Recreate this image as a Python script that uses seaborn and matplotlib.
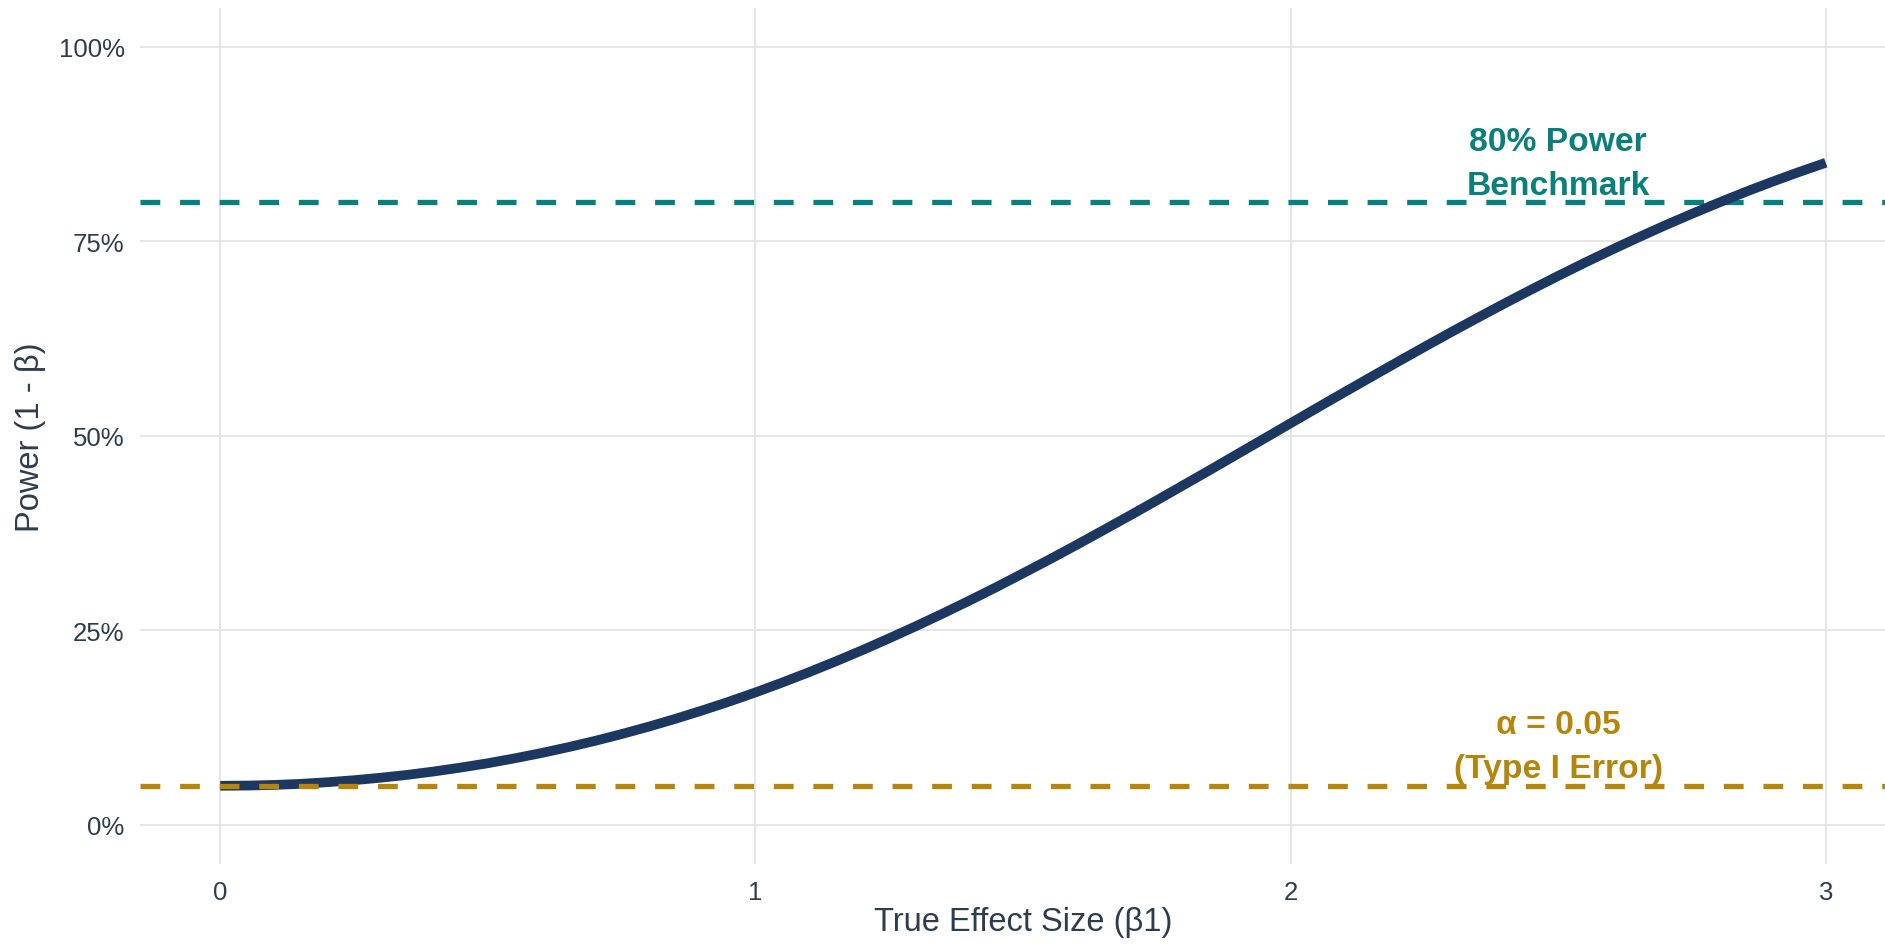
import matplotlib
matplotlib.use("Agg")
import matplotlib.pyplot as plt
import seaborn as sns
import pandas as pd
from matplotlib.ticker import PercentFormatter

# Data
effect_size = [0.00, 0.05, 0.10, 0.15, 0.20, 0.25, 0.30, 0.35, 0.40, 0.45,
               0.50, 0.55, 0.60, 0.65, 0.70, 0.75, 0.80, 0.85, 0.90, 0.95,
               1.00, 1.05, 1.10, 1.15, 1.20, 1.25, 1.30, 1.35, 1.40, 1.45,
               1.50, 1.55, 1.60, 1.65, 1.70, 1.75, 1.80, 1.85, 1.90, 1.95,
               2.00, 2.05, 2.10, 2.15, 2.20, 2.25, 2.30, 2.35, 2.40, 2.45,
               2.50, 2.55, 2.60, 2.65, 2.70, 2.75, 2.80, 2.85, 2.90, 2.95, 3.00]
power = [0.0500, 0.0503, 0.0511, 0.0525, 0.0546, 0.0572, 0.0604, 0.0641, 0.0685, 0.0735,
         0.0790, 0.0853, 0.0921, 0.0996, 0.1077, 0.1165, 0.1259, 0.1360, 0.1467, 0.1580,
         0.1700, 0.1827, 0.1960, 0.2099, 0.2244, 0.2396, 0.2552, 0.2714, 0.2881, 0.3053,
         0.3231, 0.3411, 0.3596, 0.3785, 0.3975, 0.4169, 0.4365, 0.4562, 0.4761, 0.4960,
         0.5160, 0.5359, 0.5557, 0.5753, 0.5948, 0.6141, 0.6331, 0.6517, 0.6700, 0.6879,
         0.7054, 0.7224, 0.7389, 0.7549, 0.7704, 0.7852, 0.7995, 0.8133, 0.8264, 0.8389, 0.8508]
benchmark_power = 0.80
alpha_level = 0.05
x_ticks = [0, 1, 2, 3]
y_ticks = [0.0, 0.25, 0.50, 0.75, 1.00]

df = pd.DataFrame({"effect": effect_size, "power": power})

sns.set_theme(style="white")
plt.rcParams['font.family'] = ['Liberation Sans', 'DejaVu Sans']

NAVY = "#1c3860"
TEAL = "#0a7f7b"
GOLD = "#b5860d"
TEXT = "#2e3d4d"
GRID = "#e4e4e4"

W, H = 1885, 945
fig = plt.figure(figsize=(W / 100, H / 100), dpi=100)
left, right = 140, 1906
top, bottom = 8.8, 864.6
ax = fig.add_axes([left / W, 1 - bottom / H, (right - left) / W, (bottom - top) / H])

ax.set_xlim(-0.15, 3.15)
ax.set_ylim(-0.05, 1.05)

ax.axhline(benchmark_power, color=TEAL, lw=3.8, dashes=(3.75, 3.75), zorder=2)
ax.axhline(alpha_level, color=GOLD, lw=3.8, dashes=(3.75, 3.75), zorder=4)

sns.lineplot(data=df, x="effect", y="power", ax=ax, color=NAVY, lw=7,
             solid_joinstyle="round", solid_capstyle="butt", zorder=3)

ax.text(2.5, 0.85, "80% Power\nBenchmark", color=TEAL, fontsize=24.2,
        fontweight="bold", ha="center", va="center", linespacing=1.55, zorder=5)
ax.text(2.5, 0.10, "α = 0.05\n(Type I Error)", color=GOLD, fontsize=24.2,
        fontweight="bold", ha="center", va="center", linespacing=1.55, zorder=5)

ax.set_xticks(x_ticks)
ax.set_yticks(y_ticks)
ax.yaxis.set_major_formatter(PercentFormatter(1.0, decimals=0))
ax.grid(True, color=GRID, lw=1.3)
ax.set_axisbelow(True)
for s in ax.spines.values():
    s.set_visible(False)
ax.tick_params(axis="both", length=0, labelsize=18.5, labelcolor=TEXT)
ax.tick_params(axis="y", pad=11)
ax.tick_params(axis="x", pad=12)

ax.set_xlabel("True Effect Size (β1)", fontsize=23.5, color=TEXT)
ax.set_ylabel("Power (1 - β)", fontsize=23.5, color=TEXT)
pos = ax.get_position()
ax.xaxis.set_label_coords((1023 / W - pos.x0) / pos.width,
                          (1 - 923 / H - pos.y0) / pos.height)
ax.xaxis.label.set_va("center")
ax.yaxis.set_label_coords((31 / W - pos.x0) / pos.width,
                          (1 - 437 / H - pos.y0) / pos.height)
ax.yaxis.label.set_va("center")

fig.savefig("out.png", dpi=100)
